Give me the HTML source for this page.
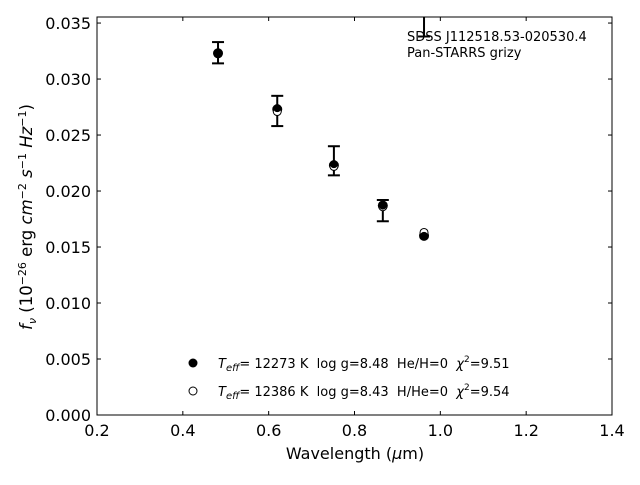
<!DOCTYPE html>
<html><head><meta charset="utf-8"><style>
body{margin:0;background:#fff}
svg{font-family:"DejaVu Sans","Liberation Sans",sans-serif}
.pre{white-space:pre}
</style></head><body>
<svg width="640" height="480">
<g id="plot"></g>
</svg>
<script>
const wavelengths=[0.482,0.620,0.752,0.866,0.962];
const observedFlux=[0.0323,0.0273,0.0223,0.0187,0.0160];
const errLow=[0.0314,0.0258,0.0214,0.0173,0.0338];
const errHigh=[0.0333,0.0285,0.0240,0.0192,0.0400];
const modelHFlux=[0.0323,0.0274,0.0224,0.0187,0.0160];
const modelHeFlux=[0.0323,0.0271,0.0222,0.0186,0.0163];
const xTicks=[0.2,0.4,0.6,0.8,1.0,1.2,1.4];
const xTickLabels=["0.2","0.4","0.6","0.8","1.0","1.2","1.4"];
const yTicks=[0,0.005,0.01,0.015,0.02,0.025,0.03,0.035];
const yTickLabels=["0.000","0.005","0.010","0.015","0.020","0.025","0.030","0.035"];

const L=97,R=612,T=17,B=415,xmin=0.2,xmax=1.4,ymin=0,ymax=0.03554;
const X=v=>L+(v-xmin)/(xmax-xmin)*(R-L);
const Y=v=>B-(v-ymin)/(ymax-ymin)*(B-T);
const NS="http://www.w3.org/2000/svg";
const g=document.getElementById('plot');
function mk(t,a,p){const e=document.createElementNS(NS,t);for(const k in a)e.setAttribute(k,a[k]);(p||g).appendChild(e);return e;}

const clip=mk('clipPath',{id:'c'});mk('rect',{x:L,y:T,width:R-L,height:B-T},clip);

xTicks.forEach((v,i)=>{
 const t1=mk('line',{x1:X(v),x2:X(v),y1:B,y2:B-4,stroke:'#000'});
 
 
 mk('line',{x1:X(v),x2:X(v),y1:T,y2:T+4,stroke:'#000'});
 const tx=mk('text',{x:X(v),y:B+21,'text-anchor':'middle','font-size':16});
 tx.textContent=xTickLabels[i];
 
 
});
yTicks.forEach((v,i)=>{
 const t1=mk('line',{x1:L,x2:L+4,y1:Y(v),y2:Y(v),stroke:'#000'});
 
 
 mk('line',{x1:R,x2:R-4,y1:Y(v),y2:Y(v),stroke:'#000'});
 const tx=mk('text',{x:L-6,y:Y(v)+6,'text-anchor':'end','font-size':16});
 tx.textContent=yTickLabels[i];
 
 
});

const eg=mk('g',{'clip-path':'url(#c)'});


wavelengths.forEach((w,i)=>{
 const x=X(w);
 mk('line',{x1:x,x2:x,y1:Y(errLow[i]),y2:Y(errHigh[i]),stroke:'#000','stroke-width':2},eg);
 mk('line',{x1:x-6,x2:x+6,y1:Y(errLow[i]),y2:Y(errLow[i]),stroke:'#000','stroke-width':2},eg);
 mk('line',{x1:x-6,x2:x+6,y1:Y(errHigh[i]),y2:Y(errHigh[i]),stroke:'#000','stroke-width':2},eg);
 const c=mk('circle',{cx:x,cy:Y(observedFlux[i]),r:5,fill:'#000'},eg);
 
 
});
wavelengths.forEach((w,i)=>{
 const c=mk('circle',{cx:X(w),cy:Y(modelHeFlux[i]),r:4,fill:'#fff',stroke:'#000','stroke-width':1});
 
 
});
wavelengths.forEach((w,i)=>{
 const c=mk('circle',{cx:X(w),cy:Y(modelHFlux[i]),r:4,fill:'#000'});
 
 
});

const fr=mk('rect',{x:L,y:T,width:R-L,height:B-T,fill:'none',stroke:'#000','stroke-width':1});


</script>
<svg style="position:absolute;left:0;top:0" width="640" height="480">
<text x="407" y="41" font-size="13">SDSS J112518.53-020530.4</text>
<text x="407" y="57" font-size="13">Pan-STARRS grizy</text>
<g font-size="13">
<circle cx="193" cy="363" r="4.5" fill="#000"/>
<text class="pre" x="218" y="368"><tspan font-style="italic">T</tspan><tspan font-style="italic" font-size="10" dy="3">eff</tspan><tspan dy="-3">= 12273 K  log g=8.48  He/H=0  </tspan><tspan font-style="italic">χ</tspan><tspan font-size="9" dy="-6">2</tspan><tspan dy="6">=9.51</tspan></text>
<circle cx="193" cy="391" r="4" fill="#fff" stroke="#000"/>
<text class="pre" x="218" y="396"><tspan font-style="italic">T</tspan><tspan font-style="italic" font-size="10" dy="3">eff</tspan><tspan dy="-3">= 12386 K  log g=8.43  H/He=0  </tspan><tspan font-style="italic">χ</tspan><tspan font-size="9" dy="-6">2</tspan><tspan dy="6">=9.54</tspan></text>
</g>
<text x="355" y="459" font-size="16" text-anchor="middle">Wavelength (<tspan font-style="italic">μ</tspan>m)</text>
<text transform="translate(32,217) rotate(-90)" font-size="16.5" text-anchor="middle"><tspan font-style="italic">f</tspan><tspan font-style="italic" font-size="11" dy="4">ν</tspan><tspan dy="-4"> (10</tspan><tspan font-size="11" dy="-6">−26</tspan><tspan dy="6"> erg </tspan><tspan font-style="italic">cm</tspan><tspan font-size="11" dy="-6">−2</tspan><tspan dy="6"> </tspan><tspan font-style="italic">s</tspan><tspan font-size="11" dy="-6">−1</tspan><tspan dy="6"> </tspan><tspan font-style="italic">Hz</tspan><tspan font-size="11" dy="-6">−1</tspan><tspan dy="6">)</tspan></text>
</svg>
</body></html>
